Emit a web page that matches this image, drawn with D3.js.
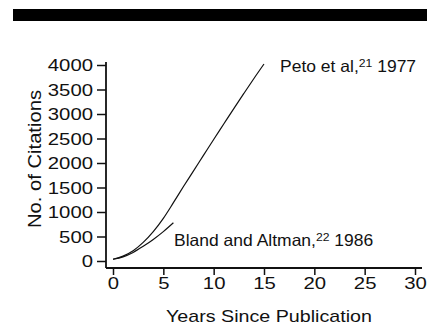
<!DOCTYPE html>
<meta charset="utf-8">
<style>
body { margin: 0; background: #fff; }
svg { display: block; }
text { font-family: "Liberation Sans", Arial, sans-serif; fill: #111; }
.axis path, .axis line { stroke: #111; }
</style>
<svg width="427" height="327"></svg>
<script src="https://cdn.jsdelivr.net/npm/d3@7"></script>
<script>

// years since publication
var petoYears = d3.range(0, 16);
var petoCitations = [35, 100, 210, 380, 600, 870, 1190, 1520, 1840, 2160, 2480, 2795, 3110, 3420, 3725, 4020];

var blandYears = d3.range(0, 7);
var blandCitations = [35, 85, 175, 300, 440, 600, 780];

var xTicks = [0, 5, 10, 15, 20, 25, 30];
var yTicks = [0, 500, 1000, 1500, 2000, 2500, 3000, 3500, 4000];

var svg = d3.select("svg");

// black band across the top of the scan
svg.append("rect")
    .attr("x", 13).attr("y", 9)
    .attr("width", 414).attr("height", 12)
    .attr("fill", "#000");

var x = d3.scaleLinear().domain([0, 30]).range([113, 415]);
var y = d3.scaleLinear().domain([0, 4000]).range([261, 65]);

var charW = 11.3;

var xAxis = svg.append("g")
    .attr("class", "axis")
    .attr("transform", "translate(0,268)")
    .call(d3.axisBottom(x).tickValues(xTicks).tickFormat(d3.format("d"))
      .tickSize(7).tickSizeOuter(0).tickPadding(3));
xAxis.select(".domain").attr("d", "M106,0H422").attr("stroke-width", 1.8);
xAxis.selectAll(".tick line").attr("stroke-width", 1.5);
xAxis.selectAll(".tick text")
    .attr("font-size", "16.5px")
    .attr("dy", null)
    .attr("y", 21)
    .attr("textLength", function(d) { return String(d).length * charW; })
    .attr("lengthAdjust", "spacingAndGlyphs");

var yAxis = svg.append("g")
    .attr("class", "axis")
    .attr("transform", "translate(106,0)")
    .call(d3.axisLeft(y).tickValues(yTicks).tickFormat(d3.format("d"))
      .tickSize(9).tickSizeOuter(0).tickPadding(4));
yAxis.select(".domain").attr("d", "M0,62V268").attr("stroke-width", 1.8);
yAxis.selectAll(".tick line").attr("stroke-width", 1.5);
yAxis.selectAll(".tick text")
    .attr("font-size", "16.5px")
    .attr("dy", "0.36em")
    .attr("textLength", function(d) { return String(d).length * charW; })
    .attr("lengthAdjust", "spacingAndGlyphs");

// axis titles
svg.append("text")
    .attr("x", 269).attr("y", 322)
    .attr("text-anchor", "middle")
    .attr("font-size", "17px")
    .attr("textLength", 206)
    .attr("lengthAdjust", "spacingAndGlyphs")
    .text("Years Since Publication");

svg.append("text")
    .attr("transform", "translate(41,159) rotate(-90)")
    .attr("text-anchor", "middle")
    .attr("font-size", "18px")
    .attr("textLength", 138)
    .attr("lengthAdjust", "spacingAndGlyphs")
    .text("No. of Citations");

// curves
var line = d3.line()
    .x(function(d) { return x(d[0]); })
    .y(function(d) { return y(d[1]); })
    .curve(d3.curveMonotoneX);

svg.append("path")
    .datum(d3.zip(petoYears, petoCitations))
    .attr("fill", "none")
    .attr("stroke", "#111")
    .attr("stroke-width", 1.2)
    .attr("d", line);

svg.append("path")
    .datum(d3.zip(blandYears, blandCitations))
    .attr("fill", "none")
    .attr("stroke", "#111")
    .attr("stroke-width", 1.2)
    .attr("d", line);

// labels with superscript references
function label(px, py, name, ref, year) {
  var t = svg.append("text")
      .attr("transform", "translate(" + px + "," + py + ") scale(1.06,1)")
      .attr("font-size", "16.5px");
  t.append("tspan").text(name);
  t.append("tspan").attr("font-size", "11.5px").attr("dy", -5).text(ref);
  t.append("tspan").attr("dy", 5).text(" " + year);
}

label(280, 72, "Peto et al,", "21", "1977");
label(174, 246, "Bland and Altman,", "22", "1986");

</script>
